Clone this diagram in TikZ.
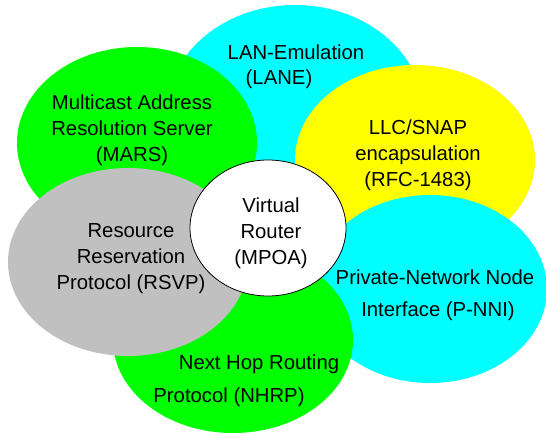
\documentclass[tikz,border=0pt]{standalone}
\usepackage{fontspec}
\setmainfont{Liberation Sans}
\usepackage{tikz}

\definecolor{atmcyan}{RGB}{0,255,255}
\definecolor{atmgreen}{RGB}{0,255,0}
\definecolor{atmyellow}{RGB}{255,255,0}
\definecolor{atmgray}{RGB}{192,192,192}

\begin{document}
\begin{tikzpicture}[x=1pt, y=-1pt,
    petal/.style={align=center, inner sep=0pt, font=\fontsize{20.3}{26}\selectfont}]
            \useasboundingbox (0,0) rectangle (546,433);

            % Petals, back to front
            \fill[atmcyan]   (295,112) ellipse [x radius=128pt, y radius=107pt];
            \fill[atmgreen]  (137,143) ellipse [x radius=120pt, y radius=96pt];
            \fill[atmyellow] (415,160) ellipse [x radius=120pt, y radius=95pt];
            \fill[atmcyan]   (430,289) ellipse [x radius=117pt, y radius=94pt];
            \fill[atmgreen]  (233,340) ellipse [x radius=120pt, y radius=93pt];
            \fill[atmgray]   (128,262) ellipse [x radius=120pt, y radius=94pt];

            % Hub
            \filldraw[fill=white, draw=black, line width=0.8pt] (268,228) ellipse [x radius=78pt, y radius=68pt];

            % Labels
            \node[petal] (lanea) at (296,52) {LAN-Emulation};
            \node[petal] (laneb) at (279,79) {(LANE)};
            \node[petal] (mars) at (132,130) {Multicast Address\\Resolution Server\\(MARS)};
            \node[petal] (llc) at (418,155) {LLC/SNAP\\encapsulation\\(RFC-1483)};
            \node[petal] (mpoa) at (271,233) {Virtual\\Router\\(MPOA)};
            \node[petal] (rsvp) at (131,259) {Resource\\Reservation\\Protocol (RSVP)};
            \node[petal] (nhrpa) at (259,364) {Next Hop Routing};
            \node[petal] (nhrpb) at (229,397) {Protocol (NHRP)};
            \node[petal] (pnnia) at (435,277) {Private-Network Node};
            \node[petal] (pnnib) at (438,311) {Interface (P-NNI)};

        \end{tikzpicture}
\end{document}
